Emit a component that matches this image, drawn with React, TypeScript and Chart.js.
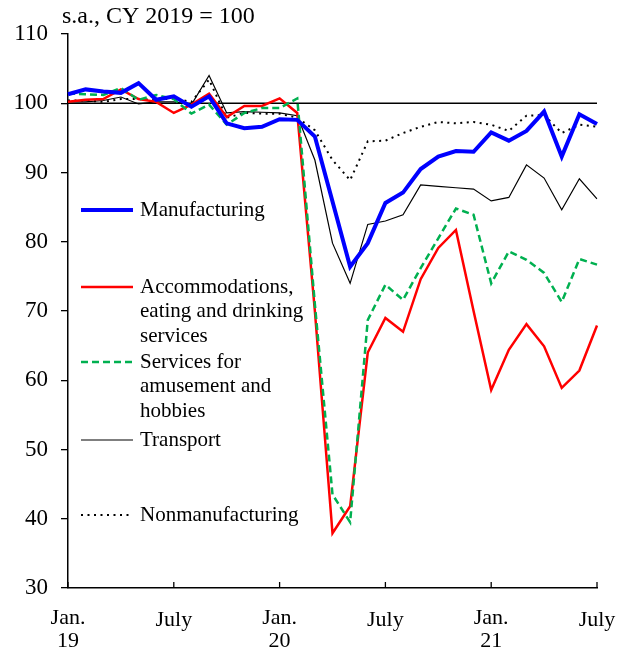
import React, { useEffect, useRef } from "react";
import { Chart, registerables } from "chart.js";

Chart.register(...registerables);

const months = [
  "2019-01", "2019-02", "2019-03", "2019-04", "2019-05", "2019-06",
  "2019-07", "2019-08", "2019-09", "2019-10", "2019-11", "2019-12",
  "2020-01", "2020-02", "2020-03", "2020-04", "2020-05", "2020-06",
  "2020-07", "2020-08", "2020-09", "2020-10", "2020-11", "2020-12",
  "2021-01", "2021-02", "2021-03", "2021-04", "2021-05", "2021-06",
  "2021-07",
];

const manufacturing = [
  101.3, 102.0, 101.7, 101.5, 102.9, 100.5, 101.0, 99.5, 101.0, 97.1, 96.4, 96.6,
  97.7, 97.6, 95.2, 85.8, 76.4, 79.8, 85.6, 87.1, 90.5, 92.3, 93.1, 93.0,
  95.8, 94.6, 96.0, 98.8, 92.3, 98.4, 97.0,
];

const accommodations = [
  100.2, 100.5, 100.6, 102.0, 100.6, 100.2, 98.6, 99.8, 101.4, 98.0, 99.6, 99.6,
  100.7, 98.6, 70.0, 37.9, 41.8, 64.0, 69.0, 67.0, 74.6, 79.1, 81.7, 70.0,
  58.6, 64.4, 68.1, 64.9, 58.9, 61.4, 67.9,
];

const amusement = [
  101.4, 101.3, 101.2, 102.2, 100.5, 101.2, 100.6, 98.5, 99.8, 96.9, 98.6, 99.3,
  99.3, 100.7, 71.0, 43.5, 39.5, 68.7, 73.8, 71.6, 76.2, 80.5, 84.8, 83.9,
  74.0, 78.6, 77.4, 75.5, 71.3, 77.5, 76.7,
];

const transport = [
  100.2, 100.2, 100.4, 100.9, 99.9, 100.2, 100.2, 99.8, 104.0, 98.6, 98.8, 98.7,
  98.6, 98.2, 91.8, 79.8, 74.0, 82.5, 83.0, 83.9, 88.2, 88.0, 87.8, 87.6,
  85.9, 86.4, 91.1, 89.2, 84.6, 89.1, 86.2,
];

const nonmanufacturing = [
  100.4, 100.4, 100.2, 100.6, 100.6, 100.5, 100.7, 100.2, 103.4, 97.9, 98.6, 98.5,
  98.5, 97.9, 96.1, 91.8, 88.9, 94.5, 94.6, 95.7, 96.6, 97.3, 97.1, 97.3,
  96.9, 96.0, 98.2, 98.3, 95.7, 96.9, 96.6,
];

const xTickIndices = [0, 6, 12, 18, 24, 30];
const xTickTexts: string[][] = [
  ["Jan.", "19"],
  ["July"],
  ["Jan.", "20"],
  ["July"],
  ["Jan.", "21"],
  ["July"],
];

const yMin = 30;
const yMax = 110;
const yStep = 10;
const baseLine = 100;
const unitTitle = "s.a., CY 2019 = 100";

const legendItems = [
  { lines: ["Manufacturing"], color: "#0000ff", width: 4, dash: [] as number[] },
  { lines: ["Accommodations,", "eating and drinking", "services"], color: "#ff0000", width: 2.5, dash: [] as number[] },
  { lines: ["Services for", "amusement and", "hobbies"], color: "#00b050", width: 2.5, dash: [7, 4] },
  { lines: ["Transport"], color: "#000000", width: 1.2, dash: [] as number[] },
  { lines: ["Nonmanufacturing"], color: "#000000", width: 2, dash: [2, 4.5] },
];
const legendY = [210, 287, 362, 440, 515];

const FONT = '"Liberation Serif", "Times New Roman", serif';

export default function App() {
  const ref = useRef<HTMLCanvasElement | null>(null);

  useEffect(() => {
    if (!ref.current) return;

    const overlay = {
      id: "overlay",
      beforeDatasetsDraw(chart: any) {
        const { ctx, chartArea, scales } = chart;
        const y = scales.y.getPixelForValue(baseLine);
        ctx.save();
        ctx.strokeStyle = "#000";
        ctx.lineWidth = 1.3;
        ctx.beginPath();
        ctx.moveTo(chartArea.left, y);
        ctx.lineTo(chartArea.right, y);
        ctx.stroke();
        ctx.restore();
      },
      afterDraw(chart: any) {
        const { ctx, chartArea, scales } = chart;
        ctx.save();
        // title
        ctx.fillStyle = "#000";
        ctx.font = `24px ${FONT}`;
        ctx.textAlign = "left";
        ctx.textBaseline = "middle";
        ctx.fillText(unitTitle, 62, 17);

        // x ticks (inward) and labels
        ctx.font = `22px ${FONT}`;
        ctx.strokeStyle = "#000";
        ctx.lineWidth = 1.3;
        xTickIndices.forEach((idx, k) => {
          const x = scales.x.getPixelForValue(idx);
          ctx.beginPath();
          ctx.moveTo(x, chartArea.bottom);
          ctx.lineTo(x, chartArea.bottom - 6);
          ctx.stroke();
          const t = xTickTexts[k];
          ctx.textAlign = "center";
          ctx.textBaseline = "middle";
          if (t.length === 2) {
            ctx.fillText(t[0], x, chartArea.bottom + 30);
            ctx.fillText(t[1], x, chartArea.bottom + 53);
          } else {
            ctx.fillText(t[0], x, chartArea.bottom + 32);
          }
        });

        // legend
        ctx.font = `21px ${FONT}`;
        legendItems.forEach((it, i) => {
          const y = legendY[i];
          ctx.strokeStyle = it.color;
          ctx.lineWidth = it.width;
          ctx.setLineDash(it.dash);
          ctx.beginPath();
          ctx.moveTo(81, y);
          ctx.lineTo(133, y);
          ctx.stroke();
          ctx.setLineDash([]);
          ctx.fillStyle = "#000";
          ctx.textAlign = "left";
          ctx.textBaseline = "middle";
          it.lines.forEach((line, j) => {
            ctx.fillText(line, 140, y + j * 24.5);
          });
        });
        ctx.restore();
      },
    };

    const chart = new Chart(ref.current, {
      type: "line",
      data: {
        labels: months,
        datasets: [
          {
            label: "Manufacturing",
            data: manufacturing,
            borderColor: "#0000ff",
            borderWidth: 4,
            pointRadius: 0,
            tension: 0,
            fill: false,
          },
          {
            label: "Services for amusement and hobbies",
            data: amusement,
            borderColor: "#00b050",
            borderWidth: 2.5,
            borderDash: [7, 4],
            pointRadius: 0,
            tension: 0,
            fill: false,
          },
          {
            label: "Accommodations, eating and drinking services",
            data: accommodations,
            borderColor: "#ff0000",
            borderWidth: 2.5,
            pointRadius: 0,
            tension: 0,
            fill: false,
          },
          {
            label: "Transport",
            data: transport,
            borderColor: "#000000",
            borderWidth: 1.2,
            pointRadius: 0,
            tension: 0,
            fill: false,
          },
          {
            label: "Nonmanufacturing",
            data: nonmanufacturing,
            borderColor: "#000000",
            borderWidth: 2,
            borderDash: [2, 4.5],
            pointRadius: 0,
            tension: 0,
            fill: false,
          },
        ],
      },
      options: {
        responsive: false,
        animation: false,
        layout: { padding: { top: 34, right: 20, left: 0, bottom: 0 } },
        plugins: {
          legend: { display: false },
          tooltip: { enabled: false },
          title: { display: false },
        },
        scales: {
          x: {
            type: "category",
            offset: false,
            ticks: { display: false },
            grid: { display: true, drawOnChartArea: false, drawTicks: false },
            border: { display: true, color: "#000", width: 1.5 },
            afterFit(scale: any) {
              scale.height = 65;
            },
          },
          y: {
            min: yMin,
            max: yMax,
            ticks: {
              stepSize: yStep,
              color: "#000",
              font: { family: FONT, size: 23 },
              padding: 13,
            },
            grid: {
              display: true,
              drawOnChartArea: false,
              drawTicks: true,
              tickLength: 7,
              color: "#000",
              lineWidth: 1.3,
            },
            border: { display: true, color: "#000", width: 1.5 },
            afterFit(scale: any) {
              scale.width = 68;
            },
          },
        },
      },
      plugins: [overlay],
    } as any);

    return () => chart.destroy();
  }, []);

  return (
    <div style={{ position: "absolute", left: 0, top: 0, width: 617, height: 653, background: "#fff" }}>
      <canvas ref={ref} width={617} height={653} style={{ width: 617, height: 653 }} />
    </div>
  );
}
